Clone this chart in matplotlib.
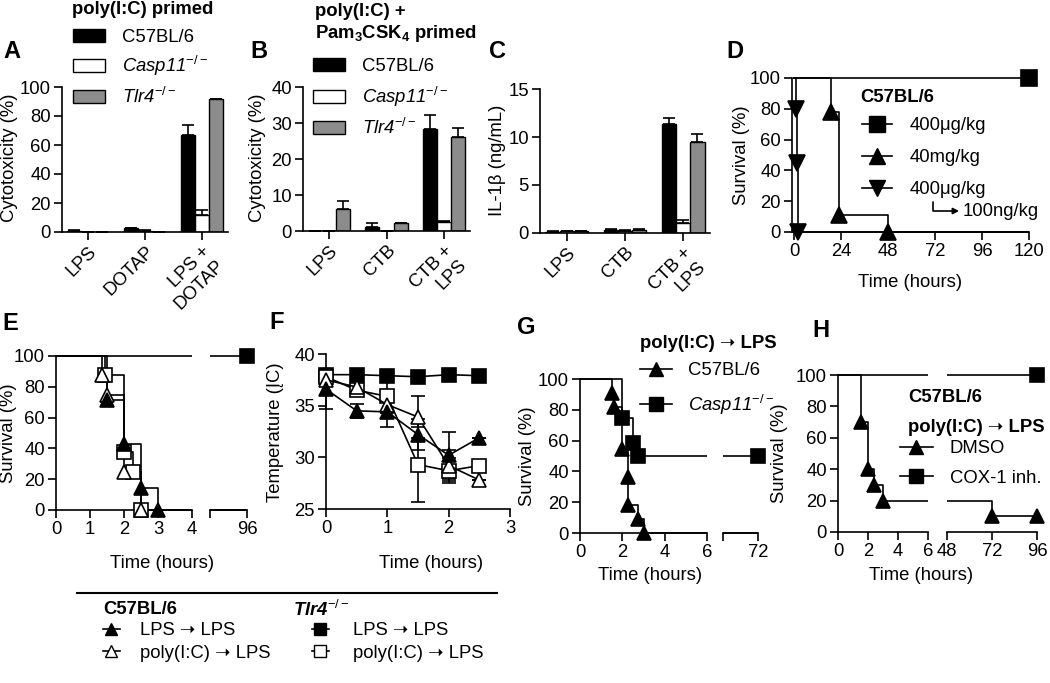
import matplotlib
matplotlib.use('Agg')
import matplotlib.pyplot as plt
from matplotlib.lines import Line2D
from matplotlib.patches import Patch, FancyArrowPatch
from matplotlib.transforms import Bbox, TransformedBbox
import numpy as np

plt.rcParams['font.family'] = ['Liberation Sans', 'DejaVu Sans']
plt.rcParams['mathtext.fontset'] = 'custom'
plt.rcParams['mathtext.rm'] = 'Liberation Sans'
plt.rcParams['mathtext.it'] = 'Liberation Sans:italic'
plt.rcParams['mathtext.bf'] = 'Liberation Sans:bold'
plt.rcParams['font.size'] = 13.3
plt.rcParams['axes.linewidth'] = 1.2

ARROW = '\u279D'

# ---- data ----
# A: poly(I:C) primed cytotoxicity
a_groups = ['LPS', 'DOTAP', 'LPS +\nDOTAP']
a_wt = [1.0, 2.5, 67.0]
a_wt_err = [0.2, 0.3, 7.0]
a_casp = [0.0, 1.0, 12.0]
a_casp_err = [0.0, 0.2, 3.0]
a_tlr = [0.0, 0.0, 91.5]
a_tlr_err = [0.0, 0.0, 0.5]

# B: poly(I:C) + Pam3CSK4 primed cytotoxicity
b_groups = ['LPS', 'CTB', 'CTB +\nLPS']
b_wt = [0.0, 1.0, 28.3]
b_wt_err = [0.0, 1.3, 4.0]
b_casp = [0.0, 0.0, 2.5]
b_casp_err = [0.0, 0.0, 0.4]
b_tlr = [6.0, 2.2, 26.0]
b_tlr_err = [2.2, 0.1, 2.7]

# C: IL-1beta
c_groups = ['LPS', 'CTB', 'CTB +\nLPS']
c_wt = [0.15, 0.35, 11.4]
c_wt_err = [0.02, 0.05, 0.6]
c_casp = [0.2, 0.25, 1.0]
c_casp_err = [0.02, 0.03, 0.35]
c_tlr = [0.2, 0.35, 9.5]
c_tlr_err = [0.02, 0.08, 0.8]

# D: survival, C57BL/6
d_400ug_t, d_400ug_s, d_400ug_end = [], [], 120
d_40mg_t, d_40mg_s, d_40mg_end = [19, 23, 48], [77.8, 11.1, 0], 120
d_low_t, d_low_s, d_low_end = [1, 1.5, 2], [80, 45, 0], 120
d_labels = ['400μg/kg', '40mg/kg', '400μg/kg']

# E: survival
e_wt_lps_t, e_wt_lps_s = [1.5, 2.0, 2.5, 3.0], [71.4, 42.9, 14.3, 0]
e_wt_poly_t, e_wt_poly_s = [1.35, 1.5, 2.0, 2.5], [87.5, 75, 25, 0]
e_tlr_poly_t, e_tlr_poly_s = [1.45, 2.0, 2.25, 2.5], [87.5, 37.5, 25, 0]
e_tlr_lps_t, e_tlr_lps_s = [], []
e_end = 96

# F: temperature
f_time = [0, 0.5, 1, 1.5, 2, 2.5]
f_wt_lps = [36.6, 34.5, 34.4, 32.2, 30.2, 31.9]
f_wt_lps_err = [1.9, 0.7, 1.5, 1.5, 2.3, 0.0]
f_wt_poly = [37.5, 36.8, 35.1, 33.9, 29.2, 27.8]
f_wt_poly_err = [0.5, 0.6, 0.8, 2.0, 1.5, 0.0]
f_tlr_poly = [37.8, 36.5, 35.9, 29.3, 28.7, 29.2]
f_tlr_poly_err = [0.4, 0.5, 1.5, 3.6, 1.2, 0.3]
f_tlr_lps = [38.0, 38.0, 37.9, 37.8, 38.0, 37.9]
f_tlr_lps_err = [0.3, 0.5, 0.4, 0.3, 0.3, 0.3]

# G: survival poly(I:C) -> LPS
g_wt_t = [1.5, 1.6, 2.0, 2.27, 2.27, 2.72, 3.0]
g_wt_s = [90.9, 81.8, 54.5, 36.4, 18.2, 9.1, 0]
g_casp_t = [2.0, 2.5, 2.73]
g_casp_s = [75, 58.3, 50]
g_end = 72

# H: survival, COX-1 inhibitor
h_dmso_t = [1.5, 2.0, 2.4, 3.0, 72]
h_dmso_s = [70, 40, 30, 20, 10]
h_cox_t, h_cox_s = [], []
h_end = 96

# ---- layout helpers ----
W, H = 1050, 683
FS = 13.3
fig = plt.figure(figsize=(10.5, 6.83), dpi=100)


def px_axes(x0, x1, ytop, ybot):
    return fig.add_axes([x0 / W, 1 - ybot / H, (x1 - x0) / W, (ybot - ytop) / H])


def fx(x):
    return x / W


def fy(y):
    return 1 - y / H


def style(ax):
    ax.spines['top'].set_visible(False)
    ax.spines['right'].set_visible(False)
    ax.tick_params(direction='out', length=6, width=1.2, labelsize=FS, pad=2)


def ylabel_at(x, y, s):
    fig.text(fx(x), fy(y), s, rotation=90, ha='center', va='center', fontsize=FS)


def bar_panel(ax, groups, series, ymax, ystep):
    style(ax)
    x = np.arange(len(groups))
    w = 0.245
    for off, (vals, errs, col) in zip([-w, 0, w], series):
        ax.bar(x + off, vals, w, color=col, edgecolor='black', linewidth=1, zorder=2)
        ax.errorbar(x + off, vals, yerr=[np.zeros(len(errs)), errs], fmt='none',
                    ecolor='black', elinewidth=1.2, capsize=4, capthick=1.2, zorder=1)
    ax.set_xlim(-0.46, 2.46)
    ax.set_ylim(0, ymax)
    ax.set_yticks(np.arange(0, ymax + 0.1, ystep))
    ax.set_xticks(x)
    ax.set_xticklabels(groups, rotation=45, ha='right', rotation_mode='anchor')


def km_steps(times, surv, end):
    xs, ys, prev = [0], [100], 100
    for t, s in zip(times, surv):
        xs += [t, t]
        ys += [prev, s]
        prev = s
    xs.append(end)
    ys.append(prev)
    mx, my = list(times), list(surv)
    if prev > 0:
        mx.append(end)
        my.append(prev)
    return xs, ys, mx, my


def draw_km(axes, times, surv, end, marker, filled, ms):
    xs, ys, mx, my = km_steps(times, surv, end)
    for ax in axes:
        lo, hi = ax.get_xlim()
        ln, = ax.plot(xs, ys, color='k', lw=1.2, zorder=2)
        ln.set_clip_box(TransformedBbox(Bbox([[lo, -10], [hi, 110]]), ax.transData))
        sel = [(a, b) for a, b in zip(mx, my) if lo - 1e-6 <= a <= hi + 1e-6]
        if sel:
            ax.plot([p[0] for p in sel], [p[1] for p in sel], ls='none', marker=marker,
                    ms=ms, mfc='k' if filled else 'w', mec='k', mew=1.2,
                    clip_on=False, zorder=3)


def km_axis(ax):
    style(ax)
    ax.set_ylim(0, 100)
    ax.set_yticks([0, 20, 40, 60, 80, 100])


def right_part(ax):
    style(ax)
    ax.spines['left'].set_visible(False)
    ax.set_yticks([])
    ax.set_ylim(0, 100)


def legend_at(handles, labels, x, ytop, hl, pad, ls, italic=()):
    leg = fig.legend(handles, labels, loc='upper left', bbox_to_anchor=(fx(x), fy(ytop)),
                     frameon=False, handlelength=hl, handletextpad=pad, labelspacing=ls,
                     fontsize=FS, borderaxespad=0, borderpad=0, handleheight=0.7)
    for i in italic:
        leg.get_texts()[i].set_fontstyle('italic')
    return leg


def bold_text(x, y, s, **kw):
    return fig.text(fx(x), fy(y), s, ha='left', va='center', fontsize=FS,
                    fontweight='bold', **kw)


# ---- A ----
axA = px_axes(62, 228, 87, 232)
bar_panel(axA, a_groups, [(a_wt, a_wt_err, 'black'), (a_casp, a_casp_err, 'white'),
                          (a_tlr, a_tlr_err, '#8c8c8c')], 100, 20)
ylabel_at(10, 158, 'Cytotoxicity (%)')
# ---- B ----
axB = px_axes(303, 470, 87, 231)
bar_panel(axB, b_groups, [(b_wt, b_wt_err, 'black'), (b_casp, b_casp_err, 'white'),
                          (b_tlr, b_tlr_err, '#8c8c8c')], 40, 10)
ylabel_at(258, 158, 'Cytotoxicity (%)')
# ---- C ----
axC = px_axes(540, 710, 89, 233)
bar_panel(axC, c_groups, [(c_wt, c_wt_err, 'black'), (c_casp, c_casp_err, 'white'),
                          (c_tlr, c_tlr_err, '#8c8c8c')], 15, 5)
ylabel_at(498, 160, 'IL-1β (ng/mL)')

bar_handles = [Patch(facecolor='black', edgecolor='black'),
               Patch(facecolor='white', edgecolor='black'),
               Patch(facecolor='#8c8c8c', edgecolor='black')]
bar_labels = ['C57BL/6', 'Casp11$^{-/-}$', 'Tlr4$^{-/-}$']
legend_at(bar_handles, bar_labels, 73, 29, 1.73, 0.92, 0.45, italic=(1, 2))
legend_at(bar_handles, bar_labels, 313, 58, 1.73, 0.92, 0.52, italic=(1, 2))

# ---- D ----
axD = px_axes(792, 1029, 78, 232)
km_axis(axD)
axD.set_xlim(-1, 120)
axD.set_xticks([0, 24, 48, 72, 96, 120])
axD.set_xlabel('Time (hours)', fontsize=FS, labelpad=10)
ylabel_at(741, 155, 'Survival (%)')
draw_km([axD], d_400ug_t, d_400ug_s, d_400ug_end, 's', True, 12)
draw_km([axD], d_40mg_t, d_40mg_s, d_40mg_end, '^', True, 12)
draw_km([axD], d_low_t, d_low_s, d_low_end, 'v', True, 12)
d_handles = [Line2D([], [], color='k', lw=1.2, marker=m, ms=12) for m in ['s', '^', 'v']]
bold_text(860, 97, 'C57BL/6')
legend_at(d_handles, d_labels, 862, 117, 1.62, 0.97, 0.82)
fig.add_artist(FancyArrowPatch((fx(933), fy(199)), (fx(962), fy(211)),
               transform=fig.transFigure, connectionstyle='angle,angleA=90,angleB=0,rad=0',
               arrowstyle='-|>', mutation_scale=9, color='k', lw=1.2))
fig.text(fx(963), fy(211), '100ng/kg', fontsize=FS, va='center', ha='left')

# ---- E ----
axE1 = px_axes(56, 192, 356, 510)
axE2 = px_axes(210, 247, 356, 510)
km_axis(axE1)
axE1.set_xlim(0, 4)
axE1.set_xticks([0, 1, 2, 3, 4])
right_part(axE2)
axE2.set_xlim(92, 96)
axE2.set_xticks([92, 96])
axE2.set_xticklabels(['', '96'])
ylabel_at(9, 433, 'Survival (%)')
draw_km([axE1, axE2], e_tlr_lps_t, e_tlr_lps_s, e_end, 's', True, 10)
draw_km([axE1, axE2], e_tlr_poly_t, e_tlr_poly_s, e_end, 's', False, 10)
draw_km([axE1, axE2], e_wt_poly_t, e_wt_poly_s, e_end, '^', False, 10)
draw_km([axE1, axE2], e_wt_lps_t, e_wt_lps_s, e_end, '^', True, 10)
fig.text(fx(162), fy(563), 'Time (hours)', ha='center', va='center', fontsize=FS)

# ---- F ----
axF = px_axes(326, 510, 354, 509)
style(axF)
axF.set_xlim(0, 3)
axF.set_ylim(25, 40)
axF.set_xticks([0, 1, 2, 3])
axF.set_yticks([25, 30, 35, 40])
ylabel_at(275, 432, 'Temperature (ĮC)')
for vals, errs, m, filled in [(f_tlr_lps, f_tlr_lps_err, 's', True),
                              (f_tlr_poly, f_tlr_poly_err, 's', False),
                              (f_wt_poly, f_wt_poly_err, '^', False),
                              (f_wt_lps, f_wt_lps_err, '^', True)]:
    axF.errorbar(f_time, vals, yerr=errs, color='k', lw=1.2, elinewidth=1.2, capsize=5,
                 capthick=1.2, marker=m, ms=10, mfc='k' if filled else 'w', mec='k',
                 mew=1.2, clip_on=False, zorder=3)
fig.text(fx(431), fy(563), 'Time (hours)', ha='center', va='center', fontsize=FS)

# ---- G ----
axG1 = px_axes(580, 707, 379, 533)
axG2 = px_axes(723, 758, 379, 533)
km_axis(axG1)
axG1.set_xlim(0, 6)
axG1.set_xticks([0, 2, 4, 6])
right_part(axG2)
axG2.set_xlim(68, 72)
axG2.set_xticks([68, 72])
axG2.set_xticklabels(['', '72'])
ylabel_at(527, 456, 'Survival (%)')
draw_km([axG1, axG2], g_casp_t, g_casp_s, g_end, 's', True, 10)
draw_km([axG1, axG2], g_wt_t, g_wt_s, g_end, '^', True, 10)
g_handles = [Line2D([], [], color='k', lw=1.2, marker=m, ms=10) for m in ['^', 's']]
bold_text(640, 343, 'poly(I:C) ' + ARROW + ' LPS')
legend_at(g_handles, ['C57BL/6', 'Casp11$^{-/-}$'], 640, 362, 1.73, 0.86, 0.75, italic=(1,))
fig.text(fx(650), fy(576), 'Time (hours)', ha='center', va='center', fontsize=FS)

# ---- H ----
axH1 = px_axes(838, 928, 375, 532)
axH2 = px_axes(947, 1037, 375, 532)
km_axis(axH1)
axH1.set_xlim(0, 6)
axH1.set_xticks([0, 2, 4, 6])
right_part(axH2)
axH2.set_xlim(48, 96)
axH2.set_xticks([48, 72, 96])
ylabel_at(779, 453, 'Survival (%)')
draw_km([axH1, axH2], h_cox_t, h_cox_s, h_end, 's', True, 10)
draw_km([axH1, axH2], h_dmso_t, h_dmso_s, h_end, '^', True, 10)
h_handles = [Line2D([], [], color='k', lw=1.2, marker=m, ms=10) for m in ['^', 's']]
bold_text(908, 398, 'C57BL/6')
bold_text(908, 427, 'poly(I:C) ' + ARROW + ' LPS')
legend_at(h_handles, ['DMSO', 'COX-1 inh.'], 900, 440, 1.78, 0.92, 0.69)
fig.text(fx(921), fy(576), 'Time (hours)', ha='center', va='center', fontsize=FS)

# ---- bottom legend for E/F ----
fig.add_artist(Line2D([fx(77), fx(497)], [fy(593), fy(593)], color='k', lw=1.5,
                      transform=fig.transFigure))
wt_handles = [Line2D([], [], color='k', lw=1.2, marker='^', ms=9, mfc='k', mec='k'),
              Line2D([], [], color='k', lw=1.2, marker='^', ms=9, mfc='w', mec='k')]
tlr_handles = [Line2D([], [], color='k', lw=1.2, marker='s', ms=9, mfc='k', mec='k'),
               Line2D([], [], color='k', lw=1.2, marker='s', ms=9, mfc='w', mec='k')]
bottom_labels = ['LPS ' + ARROW + ' LPS', 'poly(I:C) ' + ARROW + ' LPS']
bold_text(103, 610, 'C57BL/6')
bold_text(293, 610, 'Tlr4$^{-/-}$', fontstyle='italic')
legend_at(wt_handles, bottom_labels, 103, 622, 0.92, 1.08, 0.31)
legend_at(tlr_handles, bottom_labels, 312, 622, 0.92, 1.3, 0.31)

# ---- titles and panel letters ----
fig.text(fx(143), fy(9), 'poly(I:C) primed', ha='center', va='center', fontsize=FS,
         fontweight='bold')
bold_text(315, 12, 'poly(I:C) +')
bold_text(315, 33, r'Pam$_\mathbf{3}$CSK$_\mathbf{4}$ primed')
for letter, x, y in [('A', 3, 52), ('B', 250, 52), ('C', 489, 52), ('D', 726, 52),
                     ('E', 2, 323), ('F', 269, 322), ('G', 517, 328), ('H', 812, 330)]:
    fig.text(fx(x), fy(y), letter, ha='left', va='center', fontsize=17, fontweight='bold')

fig.savefig('out.png', dpi=100)
